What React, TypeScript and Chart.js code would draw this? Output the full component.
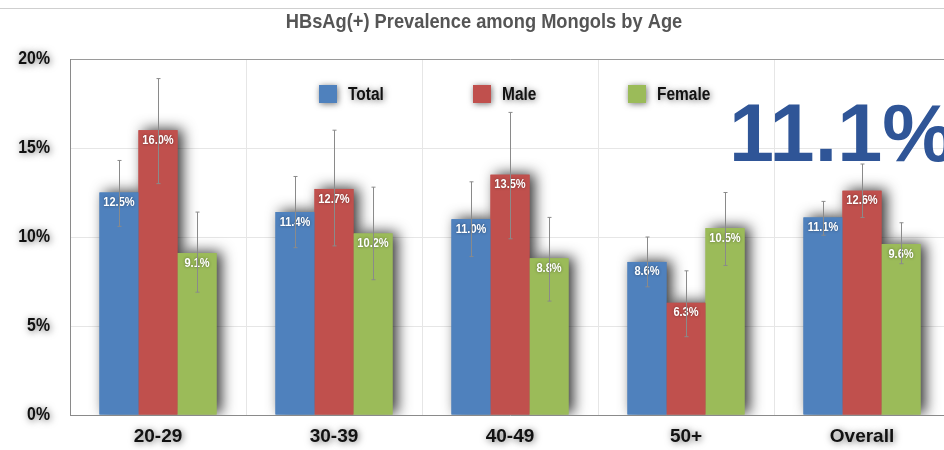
import React, { useEffect, useRef } from 'react';
import { Chart, registerables } from 'chart.js';

Chart.register(...registerables);

const categories = ['20-29', '30-39', '40-49', '50+', 'Overall'];
const seriesNames = ['Total', 'Male', 'Female'];
const totalValues = [12.5, 11.4, 11.0, 8.6, 11.1];
const maleValues = [16.0, 12.7, 13.5, 6.3, 12.6];
const femaleValues = [9.1, 10.2, 8.8, 10.5, 9.6];
const totalLow = [10.6, 9.4, 8.9, 7.2, 10.1];
const totalHigh = [14.3, 13.4, 13.1, 10.0, 12.0];
const maleLow = [13.0, 9.5, 9.9, 4.4, 11.1];
const maleHigh = [18.9, 16.0, 17.0, 8.1, 14.1];
const femaleLow = [6.9, 7.6, 6.4, 8.4, 8.5];
const femaleHigh = [11.4, 12.8, 11.1, 12.5, 10.8];
const yTicks = [0, 5, 10, 15, 20];
const titleText = 'HBsAg(+) Prevalence among Mongols by Age';
const highlightText = '11.1%';

const COLORS = ['#4F81BD', '#C0504D', '#9BBB59'];
const SANS = '"Liberation Sans", Arial, sans-serif';
const W = 960;
const H = 450;

const lows = [totalLow, maleLow, femaleLow];
const highs = [totalHigh, maleHigh, femaleHigh];

function condensedText(ctx: any, text: string, x: number, y: number, sx: number) {
  ctx.save();
  ctx.translate(x, y);
  ctx.scale(sx, 1);
  ctx.fillText(text, 0, 0);
  ctx.restore();
}

const decorPlugin = {
  id: 'decor',
  beforeDraw(chart: any) {
    const ctx = chart.ctx;
    ctx.save();
    ctx.fillStyle = '#ffffff';
    ctx.fillRect(0, 0, chart.width, chart.height);
    ctx.strokeStyle = '#cfcfcf';
    ctx.lineWidth = 1;
    ctx.beginPath();
    ctx.moveTo(0, 8.5);
    ctx.lineTo(chart.width, 8.5);
    ctx.stroke();
    ctx.restore();
    Object.values(chart.scales).forEach((scale: any) => {
      if (scale._glowWrapped) return;
      const orig = scale.drawLabels.bind(scale);
      const isY = scale.axis === 'y';
      scale.drawLabels = function (area: any) {
        const c = this.ctx;
        c.save();
        if (isY) {
          const px = this.right - 20;
          c.translate(px, 0);
          c.scale(0.88, 1);
          c.translate(-px, 0);
        }
        c.shadowColor = 'rgba(0,0,0,0.6)';
        c.shadowBlur = 7;
        c.shadowOffsetX = 1;
        c.shadowOffsetY = 1;
        orig(area);
        c.restore();
      };
      scale._glowWrapped = true;
    });
  },
  beforeDatasetsDraw(chart: any) {
    const ctx = chart.ctx;
    const a = chart.chartArea;
    ctx.save();
    ctx.beginPath();
    ctx.rect(a.left, 0, a.right - a.left, a.bottom);
    ctx.clip();
    ctx.shadowColor = 'rgba(0,0,0,0.8)';
    ctx.shadowBlur = 14;
    ctx.shadowOffsetX = 5;
    ctx.shadowOffsetY = -1;
    chart.data.datasets.forEach((ds: any, i: number) => {
      const meta = chart.getDatasetMeta(i);
      meta.data.forEach((el: any) => {
        const p = el.getProps(['x', 'y', 'base', 'width'], true);
        ctx.fillStyle = COLORS[i];
        ctx.fillRect(p.x - p.width / 2, p.y, p.width, p.base - p.y);
      });
    });
    ctx.restore();
  },
  afterDatasetsDraw(chart: any) {
    const ctx = chart.ctx;
    const yScale = chart.scales.y;
    // value labels
    ctx.save();
    ctx.font = `bold 13px ${SANS}`;
    ctx.fillStyle = '#ffffff';
    ctx.textAlign = 'center';
    ctx.textBaseline = 'middle';
    ctx.shadowColor = 'rgba(0,0,0,0.45)';
    ctx.shadowBlur = 3;
    chart.data.datasets.forEach((ds: any, i: number) => {
      const meta = chart.getDatasetMeta(i);
      meta.data.forEach((el: any, j: number) => {
        const p = el.getProps(['x', 'y'], true);
        condensedText(ctx, ds.data[j].toFixed(1) + '%', p.x, p.y + 10, 0.85);
      });
    });
    ctx.restore();
    // error bars
    ctx.save();
    ctx.strokeStyle = '#8a8a8a';
    ctx.lineWidth = 1;
    chart.data.datasets.forEach((ds: any, i: number) => {
      const meta = chart.getDatasetMeta(i);
      meta.data.forEach((el: any, j: number) => {
        const p = el.getProps(['x'], true);
        const x = Math.round(p.x) + 0.5;
        const yl = yScale.getPixelForValue(lows[i][j]);
        const yh = yScale.getPixelForValue(highs[i][j]);
        ctx.beginPath();
        ctx.moveTo(x, yh);
        ctx.lineTo(x, yl);
        ctx.moveTo(x - 2, yh);
        ctx.lineTo(x + 2, yh);
        ctx.moveTo(x - 2, yl);
        ctx.lineTo(x + 2, yl);
        ctx.stroke();
      });
    });
    ctx.restore();
  },
  afterDraw(chart: any) {
    const ctx = chart.ctx;
    // title
    ctx.save();
    ctx.font = `bold 21px ${SANS}`;
    ctx.fillStyle = '#555555';
    ctx.textAlign = 'center';
    ctx.textBaseline = 'middle';
    condensedText(ctx, titleText, 484, 22, 0.87);
    ctx.restore();
    // legend
    const legendX = [319, 473, 628];
    chart.data.datasets.forEach((ds: any, i: number) => {
      const x = legendX[i];
      ctx.save();
      ctx.shadowColor = 'rgba(0,0,0,0.55)';
      ctx.shadowBlur = 6;
      ctx.shadowOffsetX = 1;
      ctx.shadowOffsetY = 1;
      ctx.fillStyle = COLORS[i];
      ctx.fillRect(x, 85, 18, 18);
      ctx.font = `bold 18px ${SANS}`;
      ctx.fillStyle = '#111111';
      ctx.textAlign = 'left';
      ctx.textBaseline = 'middle';
      condensedText(ctx, ds.label, x + 29, 95, 0.86);
      ctx.restore();
    });
    // highlight number
    ctx.save();
    ctx.font = `bold 81px ${SANS}`;
    ctx.fillStyle = '#2F5597';
    ctx.textAlign = 'left';
    ctx.textBaseline = 'alphabetic';
    ctx.fillText(highlightText, 729, 161);
    ctx.restore();
  },
};

export default function App() {
  const ref = useRef<HTMLCanvasElement>(null);
  useEffect(() => {
    if (!ref.current) return;
    const chart = new Chart(ref.current, {
      type: 'bar',
      data: {
        labels: categories,
        datasets: [totalValues, maleValues, femaleValues].map((d, i) => ({
          label: seriesNames[i],
          data: d,
          backgroundColor: COLORS[i],
          borderWidth: 0,
          categoryPercentage: 0.665,
          barPercentage: 1.0,
        })),
      },
      options: {
        responsive: false,
        animation: false,
        devicePixelRatio: 1,
        layout: { padding: { top: 59, right: 10, left: 0, bottom: 0 } },
        plugins: {
          legend: { display: false },
          title: { display: false },
          tooltip: { enabled: false },
        },
        scales: {
          x: {
            grid: { display: true, color: '#e6e6e6', drawTicks: false, offset: true },
            border: { display: true, color: '#8a8a8a' },
            ticks: {
              color: '#111111',
              font: { family: SANS, size: 19, weight: 'bold' },
              padding: 10,
            },
            afterFit: (s: any) => {
              s.height = 35;
            },
          },
          y: {
            min: 0,
            max: 20,
            afterBuildTicks: (s: any) => {
              s.ticks = yTicks.map((v) => ({ value: v }));
            },
            grid: {
              color: (c: any) => (c.tick && c.tick.value === 20 ? '#9a9a9a' : '#e6e6e6'),
              drawTicks: false,
            },
            border: { display: true, color: '#8a8a8a' },
            ticks: {
              color: '#111111',
              font: { family: SANS, size: 18, weight: 'bold' },
              padding: 20,
              callback: (v: any) => v + '%',
            },
            afterFit: (s: any) => {
              s.width = 70;
            },
          },
        },
      },
      plugins: [decorPlugin],
    });
    return () => chart.destroy();
  }, []);
  return (
    <div style={{ position: 'fixed', left: 0, top: 0, width: W, height: H, background: '#fff', overflow: 'hidden' }}>
      <canvas ref={ref} width={W} height={H} style={{ width: W, height: H, display: 'block' }} />
    </div>
  );
}
